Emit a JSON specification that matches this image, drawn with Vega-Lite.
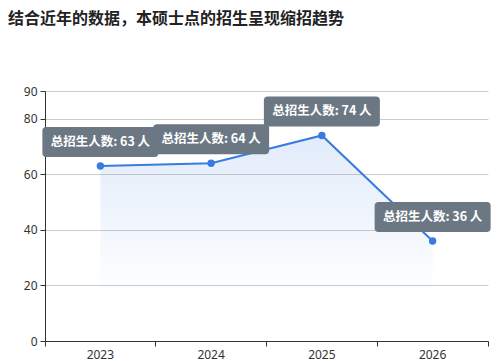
{
  "$schema": "https://vega.github.io/schema/vega-lite/v6.json",
  "autosize": {"type": "none"},
  "width": 443,
  "height": 250,
  "padding": {"left": 45, "top": 91, "right": 14, "bottom": 20},
  "background": "white",
  "title": {
    "text": "结合近年的数据，本硕士点的招生呈现缩招趋势",
    "anchor": "start",
    "frame": "group",
    "dx": -37,
    "offset": 42,
    "baseline": "bottom",
    "fontSize": 16,
    "fontWeight": "bold",
    "color": "#222222",
    "font": "Noto Sans CJK SC"
  },
  "config": {
    "view": {"stroke": null},
    "axis": {"labelFont": "Noto Sans", "labelFontSize": 12, "labelColor": "#333333"}
  },
  "data": {
    "values": [
      {"year": "2023", "n": 63, "label": "总招生人数: 63 人"},
      {"year": "2024", "n": 64, "label": "总招生人数: 64 人"},
      {"year": "2025", "n": 74, "label": "总招生人数: 74 人"},
      {"year": "2026", "n": 36, "label": "总招生人数: 36 人"}
    ]
  },
  "encoding": {
    "x": {
      "field": "year",
      "type": "ordinal",
      "scale": {"type": "band", "paddingInner": 0, "paddingOuter": 0},
      "axis": {
        "title": null,
        "labelAngle": 0,
        "bandPosition": 1,
        "tickExtra": true,
        "grid": false,
        "domainColor": "#333333",
        "tickColor": "#333333",
        "tickSize": 5,
        "labelPadding": 3
      }
    },
    "y": {
      "field": "n",
      "type": "quantitative",
      "scale": {"domain": [0, 90], "nice": false},
      "axis": {
        "title": null,
        "values": [0, 20, 40, 60, 80, 90],
        "domainColor": "#333333",
        "tickColor": "#333333",
        "tickSize": 5,
        "gridColor": "#cccccc",
        "labelPadding": 3
      }
    }
  },
  "layer": [
    {
      "mark": {
        "type": "area",
        "fill": {
          "gradient": "linear",
          "x1": 0, "y1": 0, "x2": 0, "y2": 1,
          "stops": [
            {"offset": 0, "color": "rgba(58,123,224,0.15)"},
            {"offset": 0.8, "color": "rgba(58,123,224,0)"}
          ]
        }
      }
    },
    {"mark": {"type": "line", "color": "#3a7be0", "strokeWidth": 2}},
    {"mark": {"type": "point", "filled": true, "size": 55, "color": "#3a7be0", "opacity": 1}},
    {
      "mark": {
        "type": "point",
        "shape": "M-0.931,-0.2586L0.931,-0.2586Q1,-0.2586,1,-0.19L1,0.19Q1,0.2586,0.931,0.2586L-0.931,0.2586Q-1,0.2586,-1,0.19L-1,-0.19Q-1,-0.2586,-0.931,-0.2586Z",
        "size": 13456,
        "filled": true,
        "color": "#6b7884",
        "opacity": 1,
        "yOffset": -24
      }
    },
    {
      "mark": {
        "type": "text",
        "color": "white",
        "fontSize": 12.5,
        "fontWeight": "bold",
        "font": "Noto Sans CJK SC",
        "baseline": "middle",
        "align": "center",
        "yOffset": -24
      },
      "encoding": {"text": {"field": "label"}}
    }
  ]
}
